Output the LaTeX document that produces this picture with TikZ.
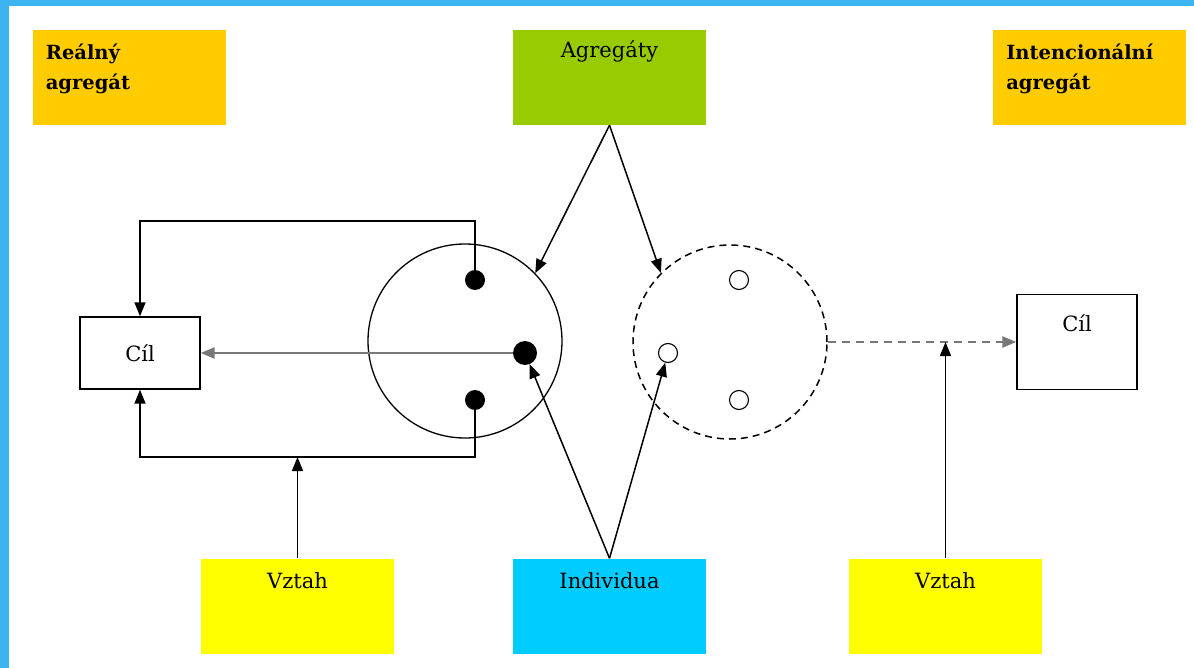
\documentclass[tikz,border=0pt]{standalone}
\usepackage{fontspec}
\setmainfont{DejaVu Serif}
\usepackage{xcolor}
\usetikzlibrary{arrows.meta,positioning}
\definecolor{framecol}{RGB}{60, 180, 240}
\definecolor{agggold}{RGB}{255, 204, 0}
\definecolor{agggreen}{RGB}{153, 204, 0}
\definecolor{indcyan}{RGB}{0, 204, 255}
\definecolor{relyellow}{RGB}{255, 255, 0}
\definecolor{linkgray}{RGB}{120, 120, 120}

\begin{document}
\begin{tikzpicture}[x=1pt, y=-1pt, >={Triangle[length=14pt,width=11pt]},
    every node/.style={font=\fontsize{21}{25}\selectfont},
    colbox/.style={minimum width=193pt, minimum height=95pt, inner sep=0pt},
    cilbox/.style={draw, line width=1.4pt, minimum width=120pt, inner sep=0pt},
    fulldot/.style={circle, fill=black, inner sep=0pt, minimum size=#1},
    opendot/.style={circle, draw, line width=1.1pt, inner sep=0pt, minimum size=19pt},
    titlelbl/.style={anchor=north west, align=left, xshift=10pt, yshift=-11pt,
        font=\bfseries\fontsize{19.5}{30}\selectfont},
    boxlbl/.style={anchor=north, yshift=-#1},
    link/.style={->, line width=1.5pt}]
        \useasboundingbox (0,0) rectangle (1194,668);
        % Frame
        \fill[framecol] (0,0) rectangle (1194,668);
        \fill[white] (9,6) rectangle (1194,668);

        % Coloured boxes
        \node[colbox, fill=agggold, label={[titlelbl]north west:Reálný\\agregát}] (realagg) at (129,77.5) {};
        \node[colbox, fill=agggreen, label={[boxlbl=7pt]north:Agregáty}] (aggs) at (609.5,77.5) {};
        \node[colbox, fill=agggold, label={[titlelbl]north west:Intencionální\\agregát}] (intagg) at (1089.5,77.5) {};
        \node[colbox, fill=relyellow, label={[boxlbl=11pt]north:Vztah}] (lrel) at (297.5,606) {};
        \node[colbox, fill=indcyan, label={[boxlbl=11pt]north:Individua}] (indiv) at (609.5,606) {};
        \node[colbox, fill=relyellow, label={[boxlbl=11pt]north:Vztah}] (rrel) at (945.5,606) {};

        % Goals
        \node[cilbox, minimum height=72pt] (lcil) at (140,353) {Cíl};
        \node[cilbox, minimum height=95pt, label={[boxlbl=17pt]north:Cíl}] (rcil) at (1077,342) {};

        % Aggregates
        \node[circle, draw, line width=1.3pt, minimum size=194pt] (lcirc) at (465,341) {};
        \node[circle, draw, line width=1.5pt, dash pattern=on 7pt off 5pt, minimum size=194pt] (icirc) at (730,342) {};

        % Individuals
        \node[fulldot=20pt] (tdot) at (475,280) {};
        \node[fulldot=24pt] (mdot) at (525,353) {};
        \node[fulldot=20pt] (bdot) at (475,400) {};
        \node[opendot] (topen) at (739,280) {};
        \node[opendot] (mopen) at (668,353) {};
        \node[opendot] (bopen) at (739,400) {};

        % Links to the left goal
        \coordinate (topbend) at (475,221);
        \coordinate (botbend) at (475,457);
        \draw[link] (tdot) -- (topbend) -| (lcil.north);
        \draw[link] (bdot) -- (botbend) -| (lcil.south);
        \draw[link, linkgray, line width=2.5pt] (mdot.west) -- (lcil.east);
        \draw[link] (lrel.north) -- (lrel.north |- botbend);

        % Aggregates and individuals
        \draw[link] (aggs.south) -- (lcirc.44);
        \draw[link] (aggs.south) -- (icirc.135);
        \draw[link] (indiv.north) -- (mdot);
        \draw[link] (indiv.north) -- (mopen);

        % Intentional goal
        \draw[link, linkgray, line width=2.5pt, dash pattern=on 8pt off 6pt] (icirc.east) -- (rcil.west);
        \draw[link] (rrel.north) -- (rrel.north |- icirc.east);
\end{tikzpicture}
\end{document}
